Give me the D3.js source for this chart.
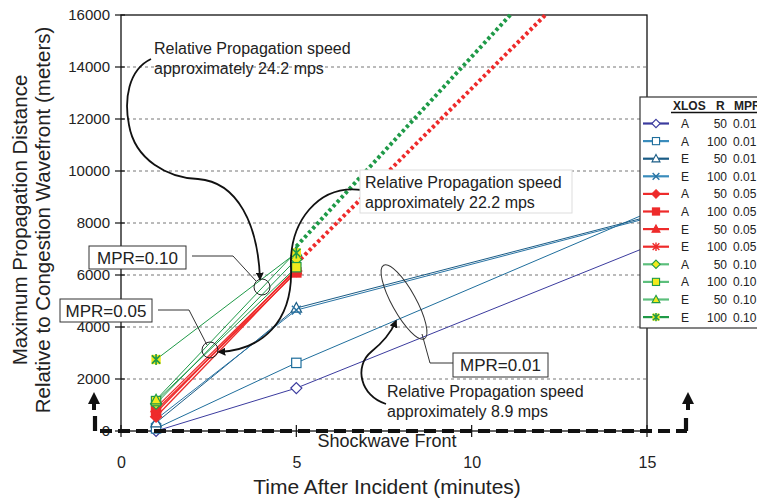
<!DOCTYPE html>
<html><head><meta charset="utf-8">
<script src="https://cdn.jsdelivr.net/npm/d3@7"></script>
<style>
html,body{margin:0;padding:0;background:#fff;}
svg text{font-family:"Liberation Sans",Arial,Helvetica,sans-serif;}
</style></head>
<body><svg id="c" width="757" height="498"></svg>
<script>
// ---------- data ----------
const timePoints = [1, 5, 15];
const xlos   = ["A","A","E","E","A","A","E","E","A","A","E","E"];
const radius = [50,100,50,100,50,100,50,100,50,100,50,100];
const mpr    = ["0.01","0.01","0.01","0.01","0.05","0.05","0.05","0.05","0.10","0.10","0.10","0.10"];
const sA50_01  = [0, 1650, 7080];
const sA100_01 = [100, 2620, 8380];
const sE50_01  = [320, 4730, 8230];
const sE100_01 = [450, 4650, 8180];
const sA50_05  = [550, 6150];
const sA100_05 = [800, 6100];
const sE50_05  = [900, 6200];
const sE100_05 = [700, 6250];
const sA50_10  = [1050, 6600];
const sA100_10 = [1150, 6300];
const sE50_10  = [1200, 6900];
const sE100_10 = [2750, 6850];
const extGreenX = [5, 11.1],  extGreenY = [7100, 16000];
const extRedX   = [5, 12.1],  extRedY   = [6450, 16000];
const xTicks = [0, 5, 10, 15];
const yTicks = [0, 2000, 4000, 6000, 8000, 10000, 12000, 14000, 16000];
const gridTicks = [2000, 4000, 6000, 8000, 10000, 12000, 14000];

const seriesValues = [sA50_01,sA100_01,sE50_01,sE100_01,sA50_05,sA100_05,sE50_05,sE100_05,sA50_10,sA100_10,sE50_10,sE100_10];

// ---------- styles ----------
const styles = [
 {c:"#3b3b9e", m:"diamond", fill:"#fff", lc:"#3b3b9e", lw:1},
 {c:"#1f6e9c", m:"square", fill:"#fff", lc:"#3a8cbc", lw:1},
 {c:"#1a5c86", m:"triangle", fill:"#fff", lc:"#1a5c86", lw:1},
 {c:"#2a74a4", m:"x", fill:"none", lc:"#3a8cbc", lw:1},
 {c:"#ee2b2b", m:"diamond", fill:"#ee2b2b", lc:"#ee2b2b", lw:1.3},
 {c:"#ee2b2b", m:"square", fill:"#ee2b2b", lc:"#ee2b2b", lw:1.3},
 {c:"#ee2b2b", m:"triangle", fill:"#ee2b2b", lc:"#ee2b2b", lw:1.3},
 {c:"#ee2b2b", m:"asterisk", fill:"none", lc:"#ee2b2b", lw:1.3},
 {c:"#1f9a48", m:"diamond", fill:"#f2ea1d", lc:"#5cbf7c", lw:1},
 {c:"#1f9a48", m:"square", fill:"#f2ea1d", lc:"#5cbf7c", lw:1},
 {c:"#1f9a48", m:"triangle", fill:"#f2ea1d", lc:"#5cbf7c", lw:1},
 {c:"#1f9a48", m:"asteriskSq", fill:"#f2ea1d", lc:"#1f9a48", lw:1}
];

const svg = d3.select("#c");
const X0=121, X1=647, Y0=431, Y1=15;
const x = d3.scaleLinear().domain([0,15]).range([X0,X1]);
const y = d3.scaleLinear().domain([0,16000]).range([Y0,Y1]);

// defs: arrowheads
const defs = svg.append("defs");
defs.append("marker").attr("id","ah").attr("viewBox","0 0 10 10").attr("refX",8).attr("refY",5)
  .attr("markerWidth",8).attr("markerHeight",8).attr("orient","auto-start-reverse").attr("markerUnits","userSpaceOnUse")
  .append("path").attr("d","M0,0 L10,5 L0,10 z").attr("fill","#111");
defs.append("marker").attr("id","ahBig").attr("viewBox","0 0 10 10").attr("refX",5).attr("refY",5)
  .attr("markerWidth",12).attr("markerHeight",12).attr("orient","auto").attr("markerUnits","userSpaceOnUse")
  .append("path").attr("d","M0,0 L10,5 L0,10 z").attr("fill","#111");

// gridlines
svg.append("g").selectAll("line").data(gridTicks).join("line")
  .attr("x1",X0).attr("x2",X1).attr("y1",d=>y(d)).attr("y2",d=>y(d))
  .attr("stroke","#777").attr("stroke-width",1).attr("stroke-dasharray","3,3");

// frame
svg.append("rect").attr("x",X0).attr("y",Y1).attr("width",X1-X0).attr("height",Y0-Y1)
  .attr("fill","none").attr("stroke","#111").attr("stroke-width",1.3);

// y axis
const yAxis = d3.axisLeft(y).tickValues(yTicks).tickSize(0).tickPadding(11).tickFormat(d3.format("d"));
const gy = svg.append("g").attr("transform",`translate(${X0},0)`).call(yAxis);
gy.select(".domain").remove();
gy.selectAll("text").attr("font-size",15).attr("fill","#222");
svg.append("g").selectAll("line").data(yTicks).join("line")
  .attr("x1",X0-6).attr("x2",X0+4).attr("y1",d=>y(d)).attr("y2",d=>y(d)).attr("stroke","#111").attr("stroke-width",1.2);

// x axis
const xAxis = d3.axisBottom(x).tickValues(xTicks).tickSize(0).tickPadding(26);
const gx = svg.append("g").attr("transform",`translate(0,${Y0})`).call(xAxis);
gx.select(".domain").remove();
gx.selectAll("text").attr("font-size",16).attr("fill","#222");
svg.append("g").selectAll("line").data(xTicks).join("line")
  .attr("x1",d=>x(d)).attr("x2",d=>x(d)).attr("y1",Y0-6).attr("y2",Y0+6).attr("stroke","#111").attr("stroke-width",1.2);

// axis titles
svg.append("text").attr("x",387).attr("y",494).attr("text-anchor","middle").attr("font-size",21).attr("fill","#222")
  .text("Time After Incident (minutes)");
const yl = svg.append("text").attr("transform","translate(0,220) rotate(-90)").attr("text-anchor","middle").attr("font-size",20.5).attr("fill","#222");
yl.append("tspan").attr("x",0).attr("y",27).text("Maximum Propagation Distance");
yl.append("tspan").attr("x",0).attr("y",50).text("Relative to Congestion Wavefront (meters)");

// marker painter
function paintMarker(g, type, r, stroke, fill, sw){
  if(type==="diamond"){
    g.append("path").attr("d",`M0,${-r}L${r},0L0,${r}L${-r},0Z`).attr("fill",fill).attr("stroke",stroke).attr("stroke-width",sw);
  } else if(type==="square"){
    g.append("rect").attr("x",-r*0.85).attr("y",-r*0.85).attr("width",r*1.7).attr("height",r*1.7).attr("fill",fill).attr("stroke",stroke).attr("stroke-width",sw);
  } else if(type==="triangle"){
    g.append("path").attr("d",`M0,${-r}L${r*0.95},${r*0.75}L${-r*0.95},${r*0.75}Z`).attr("fill",fill).attr("stroke",stroke).attr("stroke-width",sw);
  } else if(type==="x"){
    g.append("path").attr("d",`M${-r*0.8},${-r*0.8}L${r*0.8},${r*0.8}M${-r*0.8},${r*0.8}L${r*0.8},${-r*0.8}`).attr("stroke",stroke).attr("stroke-width",sw+0.3);
  } else if(type==="asterisk"){
    g.append("path").attr("d",`M${-r*0.8},${-r*0.8}L${r*0.8},${r*0.8}M${-r*0.8},${r*0.8}L${r*0.8},${-r*0.8}M0,${-r}L0,${r}`).attr("stroke",stroke).attr("stroke-width",sw+0.3);
  } else if(type==="asteriskSq"){
    g.append("rect").attr("x",-r*0.85).attr("y",-r*0.85).attr("width",r*1.7).attr("height",r*1.7).attr("fill",fill).attr("stroke","none");
    g.append("path").attr("d",`M${-r*0.75},${-r*0.75}L${r*0.75},${r*0.75}M${-r*0.75},${r*0.75}L${r*0.75},${-r*0.75}M0,${-r}L0,${r}`).attr("stroke",stroke).attr("stroke-width",sw+0.4);
  }
}

// series lines + markers
const line = d3.line().x(d=>x(d[0])).y(d=>y(d[1]));
const plotG = svg.append("g");
seriesValues.forEach((vals,i)=>{
  const pts = vals.map((v,j)=>[timePoints[j], v]);
  plotG.append("path").attr("d",line(pts)).attr("fill","none").attr("stroke",styles[i].c).attr("stroke-width",styles[i].lw);
});
// extension dotted lines
function ext(xs, ys, col){
  const pts = xs.map((v,j)=>[v, ys[j]]);
  plotG.append("path").attr("d",line(pts)).attr("fill","none").attr("stroke",col).attr("stroke-width",4)
    .attr("stroke-linecap","butt").attr("stroke-dasharray","3.2,2.8");
}
ext(extRedX, extRedY, "#ee2b2b");
ext(extGreenX, extGreenY, "#1f9a48");

seriesValues.forEach((vals,i)=>{
  vals.forEach((v,j)=>{
    if(timePoints[j]===15) return;
    const g = plotG.append("g").attr("transform",`translate(${x(timePoints[j])},${y(v)})`);
    const st = styles[i];
    const stroke = (i>=8 && st.m!=="asteriskSq") ? "#1f9a48" : st.c;
    paintMarker(g, st.m, 5.5, stroke, st.fill, 1.2);
  });
});

// bottom shockwave bracket
const brk = svg.append("g").attr("stroke","#111").attr("stroke-width",4.2).attr("fill","none");
brk.append("line").attr("x1",100).attr("x2",687).attr("y1",Y0).attr("y2",Y0).attr("stroke-dasharray","12,6");
brk.append("path").attr("d",`M95,${Y0}L95,416`);
brk.append("path").attr("d",`M686,${Y0}L686,418`);
svg.append("line").attr("x1",94).attr("x2",94).attr("y1",410).attr("y2",398).attr("stroke","#111").attr("stroke-width",4).attr("marker-end","url(#ahBig)");
svg.append("line").attr("x1",688).attr("x2",688).attr("y1",410).attr("y2",398).attr("stroke","#111").attr("stroke-width",4).attr("marker-end","url(#ahBig)");
svg.append("text").attr("x",387).attr("y",447).attr("text-anchor","middle").attr("font-size",18).attr("fill","#222").text("Shockwave Front");

// annotations
const ann = svg.append("g");
ann.append("circle").attr("cx",262).attr("cy",287).attr("r",8).attr("fill","none").attr("stroke","#222").attr("stroke-width",1);
ann.append("circle").attr("cx",210).attr("cy",350).attr("r",8).attr("fill","none").attr("stroke","#222").attr("stroke-width",1);
ann.append("ellipse").attr("cx",404).attr("cy",302).attr("rx",42).attr("ry",12)
  .attr("transform","rotate(61 404 302)").attr("fill","none").attr("stroke","#333").attr("stroke-width",1);
// leaders
ann.append("path").attr("d","M192,256L233,256L256,281").attr("fill","none").attr("stroke","#333").attr("stroke-width",1);
ann.append("path").attr("d","M158,310L189,310L207,345").attr("fill","none").attr("stroke","#333").attr("stroke-width",1);
ann.append("path").attr("d","M422,334L430,363L453,363").attr("fill","none").attr("stroke","#333").attr("stroke-width",1);
// curved arrows
ann.append("path").attr("d","M151,59C128,70 124,100 129,125C135,160 168,178 198,179C238,182 258,225 260,279")
  .attr("fill","none").attr("stroke","#111").attr("stroke-width",1.8).attr("marker-end","url(#ah)");
ann.append("path").attr("d","M362,190C318,184 289,222 291,268C293,322 262,350 219,352")
  .attr("fill","none").attr("stroke","#111").attr("stroke-width",1.8).attr("marker-end","url(#ah)");
ann.append("path").attr("d","M386,404C360,396 354,366 371,352C381,344 390,335 396,321")
  .attr("fill","none").attr("stroke","#111").attr("stroke-width",1.8).attr("marker-end","url(#ah)");

// boxes
function box(x0,y0,w,h,txt){
  ann.append("rect").attr("x",x0).attr("y",y0).attr("width",w).attr("height",h).attr("fill","#fff").attr("stroke","#333").attr("stroke-width",1);
  ann.append("text").attr("x",x0+w/2).attr("y",y0+h/2+6).attr("text-anchor","middle").attr("font-size",17).attr("fill","#222").text(txt);
}
box(89,246,97,23,"MPR=0.10");
box(60,299,92,23,"MPR=0.05");
box(453,353,95,24,"MPR=0.01");

// text annotations
ann.append("rect").attr("x",360).attr("y",170).attr("width",212).attr("height",43).attr("fill","#fff").attr("stroke","#ddd").attr("stroke-width",1);
function twoLine(x0,y0,l1,l2){
  const t = ann.append("text").attr("font-size",16).attr("fill","#222");
  t.append("tspan").attr("x",x0).attr("y",y0).text(l1);
  t.append("tspan").attr("x",x0).attr("y",y0+20).text(l2);
}
twoLine(154,54,"Relative Propagation speed","approximately 24.2 mps");
twoLine(365,188,"Relative Propagation speed","approximately 22.2 mps");
twoLine(387,397,"Relative Propagation speed","approximately 8.9 mps");

// legend
const lg = svg.append("g");
lg.append("rect").attr("x",640).attr("y",97).attr("width",130).attr("height",231).attr("fill","#fff").attr("stroke","#333").attr("stroke-width",1.2);
const hdr = lg.append("g").attr("fill","#222");
hdr.append("text").attr("x",673).attr("y",110).attr("font-size",12).attr("font-weight","bold").text("XLOS");
hdr.append("text").attr("x",716).attr("y",110).attr("font-size",12).attr("font-weight","bold").text("R");
hdr.append("text").attr("x",734).attr("y",110).attr("font-size",12).attr("font-weight","bold").text("MPR");
lg.append("line").attr("x1",671).attr("x2",757).attr("y1",112.5).attr("y2",112.5).attr("stroke","#111").attr("stroke-width",1.5);
xlos.forEach((xl,i)=>{
  const cy = 123.5 + i*17.6;
  const st = styles[i];
  lg.append("line").attr("x1",643).attr("x2",669).attr("y1",cy).attr("y2",cy).attr("stroke",st.lc).attr("stroke-width",2.2);
  const g = lg.append("g").attr("transform",`translate(656,${cy})`);
  const stroke = (i>=8 && st.m!=="asteriskSq") ? "#1f9a48" : st.c;
  paintMarker(g, st.m, 4.2, stroke, st.fill, 1.1);
  lg.append("text").attr("x",681).attr("y",cy+4.5).attr("font-size",12).attr("fill","#222").text(xl);
  lg.append("text").attr("x",727).attr("y",cy+4.5).attr("text-anchor","end").attr("font-size",12).attr("fill","#222").text(radius[i]);
  lg.append("text").attr("x",733).attr("y",cy+4.5).attr("font-size",12).attr("fill","#222").text(mpr[i]);
});
</script></body></html>
